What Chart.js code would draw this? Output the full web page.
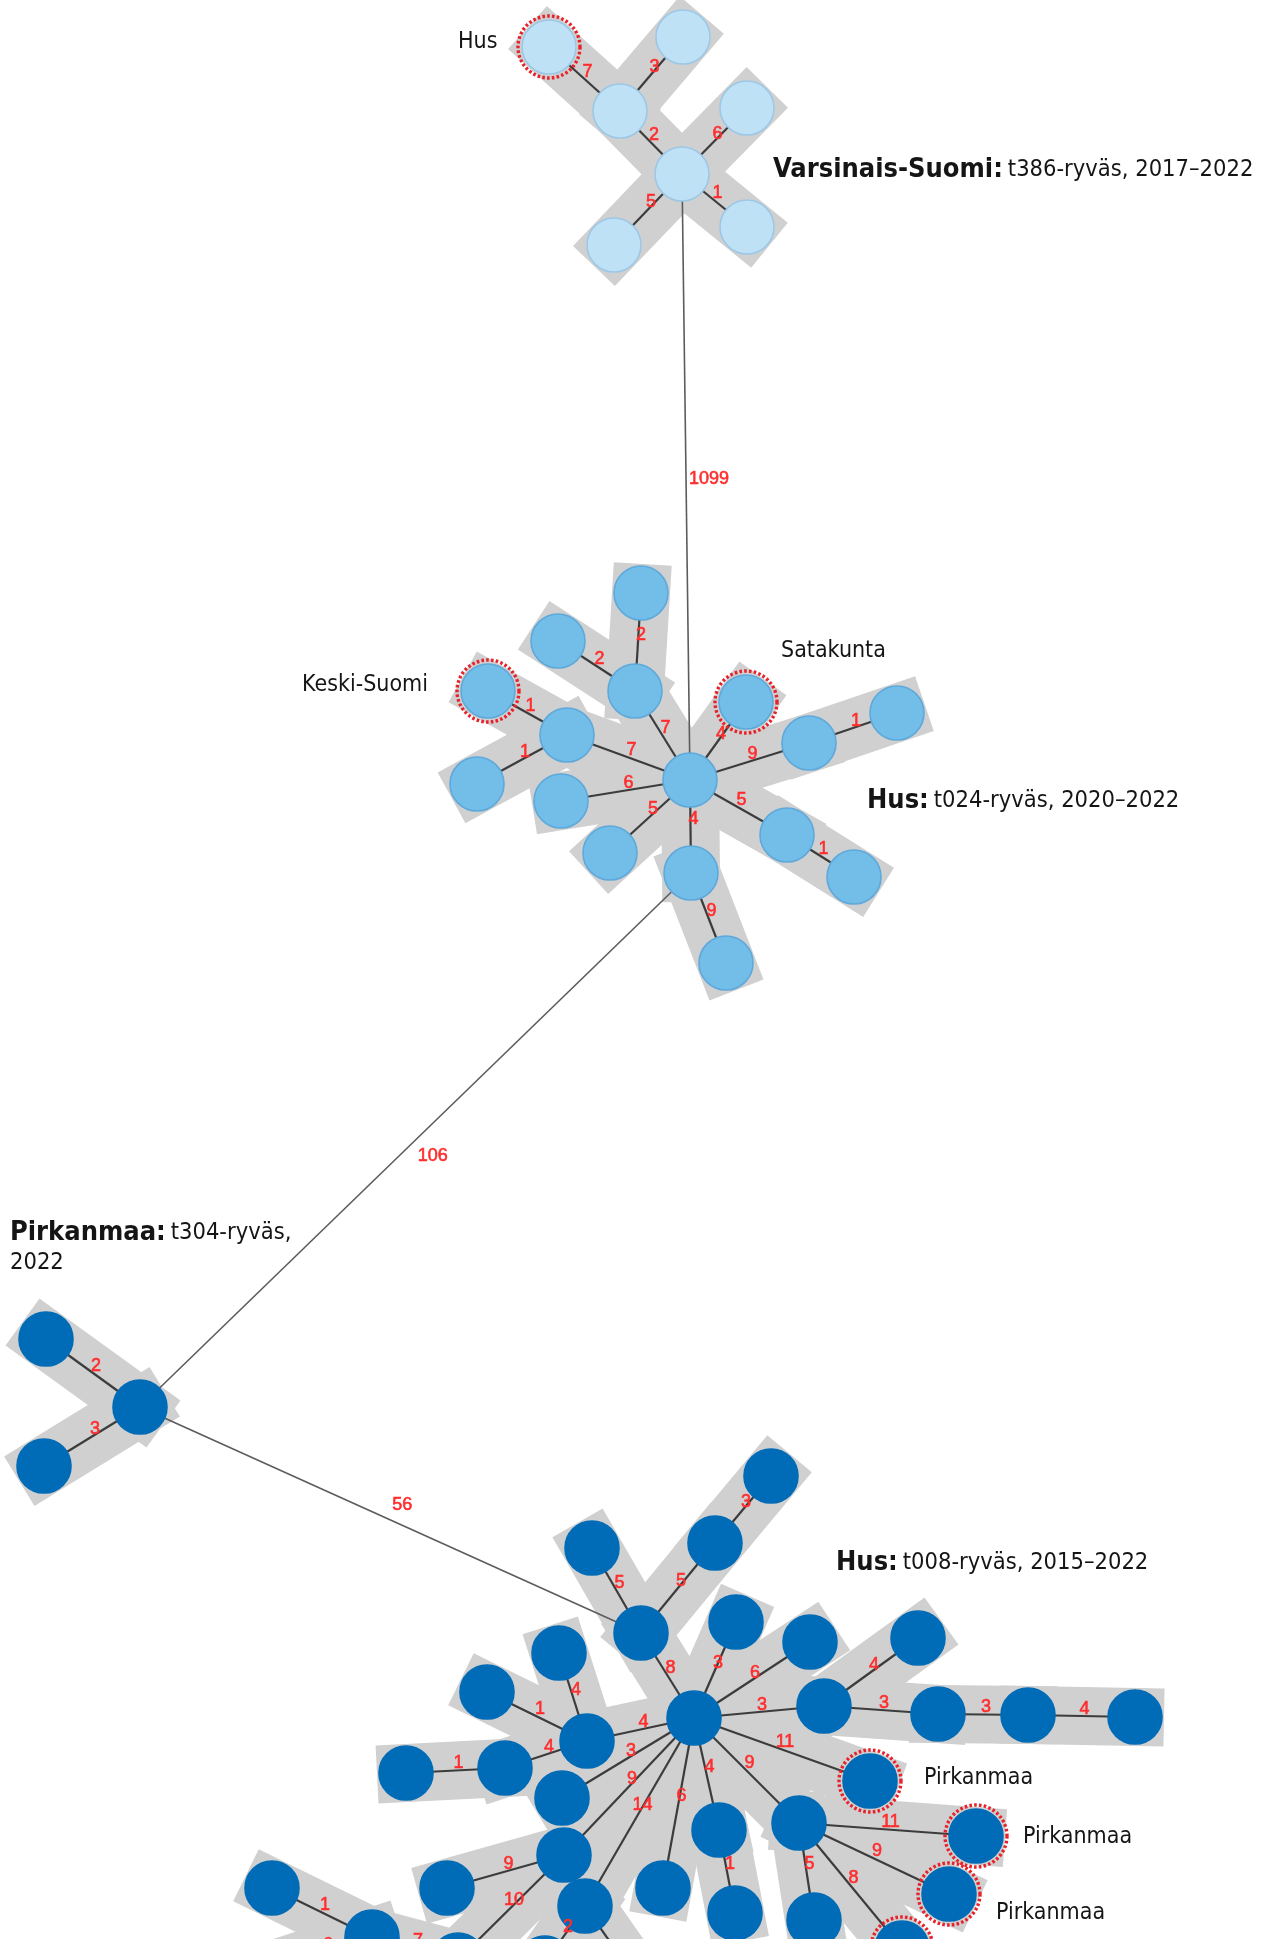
<!DOCTYPE html>
<html lang="fi">
<head>
<meta charset="utf-8">
<title>Rypäsverkosto</title>
<script src="https://cdn.jsdelivr.net/npm/chart.js@4.4.1/dist/chart.umd.min.js"></script>
<style>
  html, body { margin: 0; padding: 0; background: #ffffff; }
  #wrap { width: 1268px; height: 1939px; overflow: hidden; }
  canvas { display: block; }
</style>
</head>
<body>
<div id="wrap"><canvas id="net" width="1268" height="1939"></canvas></div>
<script>
// ---- Layout coordinates of the minimum spanning tree (x right, y down) ----

// t386 cluster, Varsinais-Suomi
const t386Nodes = [[549,47],[683,37],[620,111],[747,108],[682,174],[614,245],[747,227]];
const t386Edges = [[0,2,7],[2,1,3],[2,4,2],[4,3,6],[5,4,5],[4,6,1]];
const t386Marked = [0];

// t024 cluster, Hus
const t024Nodes = [[641,593],[558,641],[635,691],[488,691],[567,735],[477,784],[561,801],[610,853],
                   [690,780],[691,873],[726,963],[746,702],[809,743],[897,713],[787,835],[854,877]];
const t024Edges = [[2,0,2],[1,2,2],[2,8,7],[3,4,1],[5,4,1],[4,8,7],[6,8,6],[7,8,5],[8,9,4],
                   [9,10,9],[8,11,4],[8,12,9],[12,13,1],[8,14,5],[14,15,1]];
const t024Marked = [3, 11];

// t304 cluster, Pirkanmaa
const t304Nodes = [[140,1407],[46,1339],[44,1466]];
const t304Edges = [[1,0,2],[2,0,3]];
const t304Marked = [];

// t008 cluster, Hus
const t008Nodes = [[641,1633],[592,1548],[715,1543],[771,1476],[694,1718],[736,1622],[810,1642],
                   [824,1706],[918,1638],[938,1714],[1028,1715],[1135,1717],[870,1781],[799,1823],
                   [976,1836],[949,1894],[814,1920],[902,1948],[587,1741],[559,1653],[487,1692],
                   [505,1768],[406,1773],[562,1798],[564,1855],[447,1888],[585,1906],[663,1888],
                   [719,1830],[735,1913],[272,1888],[372,1937],[458,1960],[545,1963],[668,2025],[278,1968]];
const t008Edges = [[0,1,5],[0,2,5],[2,3,3],[0,4,8],[4,5,3],[4,6,6],[4,7,3],[7,8,4],[7,9,3],[9,10,3],
                   [10,11,4],[4,12,11],[4,13,9],[13,14,11],[13,15,9],[13,16,5],[13,17,8],[4,18,4],
                   [18,19,4],[18,20,1],[18,21,4],[21,22,1],[4,23,3],[4,24,9],[24,25,9],[4,26,14],
                   [4,27,6],[4,28,4],[28,29,1],[30,31,1],[31,32,7],[24,32,10],[26,33,2],[26,34,5],[31,35,6]];
const t008Marked = [12, 14, 15, 17];

// links between the clusters: [cluster, node, cluster, node, distance]
const bridges = [['t386',4,'t024',8,1099],['t024',9,'t304',0,106],['t304',0,'t008',0,56]];

// node tags (region of the marked isolate)
const tagText = ['Hus','Keski-Suomi','Satakunta','Pirkanmaa','Pirkanmaa','Pirkanmaa'];
const tagAnchor = [[458,42],[302,685],[781,651],[924,1778],[1023,1837],[996,1913]];

// cluster titles
const titleBold = ['Varsinais-Suomi:','Hus:','Pirkanmaa:','Hus:'];
const titleRest = ['t386-ryväs, 2017–2022','t024-ryväs, 2020–2022','t304-ryväs,','t008-ryväs, 2015–2022'];
const titleLine2 = ['','','2022',''];
const titleAnchor = [[773,169],[867,800],[10,1232],[836,1562]];

// ---- styling ----
const clusters = {
  t386: { nodes: t386Nodes, edges: t386Edges, marked: t386Marked, fill: '#bfe1f6', stroke: '#9cc8e6' },
  t024: { nodes: t024Nodes, edges: t024Edges, marked: t024Marked, fill: '#73bde9', stroke: '#5ea9da' },
  t304: { nodes: t304Nodes, edges: t304Edges, marked: t304Marked, fill: '#006bb6', stroke: '#006bb6' },
  t008: { nodes: t008Nodes, edges: t008Edges, marked: t008Marked, fill: '#006bb6', stroke: '#006bb6' }
};
const NODE_R = 27;
const HALO_W = 58;
const HALO_COLOR = '#d0d0d0';
const EDGE_COLOR = '#3c3c3c';
const BRIDGE_COLOR = '#5c5c5c';
const LABEL_COLOR = '#ff2e2e';
const TEXT_FONT = '"DejaVu Sans Condensed", "DejaVu Sans", sans-serif';

function pt(c, i) { const p = clusters[c].nodes[i]; return { x: p[0], y: p[1] }; }

// dotted red ring used as point style for the marked isolates
function makeRing() {
  const r = 31, pad = 4, size = 2 * (r + pad);
  const cv = document.createElement('canvas');
  cv.width = size; cv.height = size;
  const g = cv.getContext('2d');
  g.strokeStyle = '#e8222a';
  g.lineWidth = 3.4;
  g.setLineDash([2.6, 2.2]);
  g.beginPath();
  g.arc(size / 2, size / 2, r, 0, Math.PI * 2);
  g.stroke();
  return cv;
}
const ring = makeRing();

const datasets = [];
const edgeLabels = [];   // {a, b, text, long}

Object.keys(clusters).forEach(function (c) {
  const cl = clusters[c];
  cl.edges.forEach(function (e) {
    const a = pt(c, e[0]), b = pt(c, e[1]);
    datasets.push({ data: [a, b], showLine: true, borderColor: HALO_COLOR, borderWidth: HALO_W,
      borderCapStyle: 'square', pointRadius: 0, order: 6 });
    datasets.push({ data: [a, b], showLine: true, borderColor: EDGE_COLOR, borderWidth: 2.2,
      pointRadius: 0, order: 5 });
    edgeLabels.push({ a: a, b: b, text: String(e[2]), long: false });
  });
});

bridges.forEach(function (br) {
  const a = pt(br[0], br[1]), b = pt(br[2], br[3]);
  datasets.push({ data: [a, b], showLine: true, borderColor: BRIDGE_COLOR, borderWidth: 1.6,
    pointRadius: 0, order: 5 });
  edgeLabels.push({ a: a, b: b, text: String(br[4]), long: true });
});

Object.keys(clusters).forEach(function (c) {
  const cl = clusters[c];
  datasets.push({ data: cl.nodes.map(function (p, i) { return pt(c, i); }),
    pointRadius: NODE_R, pointBackgroundColor: cl.fill, pointBorderColor: cl.stroke,
    pointBorderWidth: 1.6, order: 2 });
  if (cl.marked.length) {
    datasets.push({ data: cl.marked.map(function (i) { return pt(c, i); }),
      pointStyle: ring, pointRadius: NODE_R, order: 1 });
  }
});

// edge distances, tags and titles drawn through the chart scales
const textPlugin = {
  id: 'networkText',
  afterDatasetsDraw(chart) {
    const ctx = chart.ctx, xs = chart.scales.x, ys = chart.scales.y;
    const X = function (v) { return xs.getPixelForValue(v); };
    const Y = function (v) { return ys.getPixelForValue(v); };
    ctx.save();
    ctx.fillStyle = LABEL_COLOR;
    ctx.strokeStyle = LABEL_COLOR;
    ctx.lineWidth = 0.6;
    ctx.font = '18px "Liberation Sans", Arial, sans-serif';
    ctx.textAlign = 'center';
    ctx.textBaseline = 'middle';
    edgeLabels.forEach(function (l) {
      const ax = X(l.a.x), ay = Y(l.a.y), bx = X(l.b.x), by = Y(l.b.y);
      const mx = (ax + bx) / 2, my = (ay + by) / 2;
      let lx, ly;
      if (l.long) {
        const len = Math.hypot(bx - ax, by - ay);
        const dx = (bx - ax) / len, dy = (by - ay) / len;
        lx = mx + dy * 19 + 4; ly = my - dx * 19 + 2;
      } else {
        lx = mx + 3; ly = my - 7;
      }
      ctx.fillText(l.text, lx, ly);
      ctx.strokeText(l.text, lx, ly);
    });

    ctx.fillStyle = '#151515';
    ctx.textAlign = 'left';
    ctx.font = '23px ' + TEXT_FONT;
    tagText.forEach(function (t, i) {
      ctx.fillText(t, X(tagAnchor[i][0]), Y(tagAnchor[i][1]));
    });

    titleBold.forEach(function (t, i) {
      const x = X(titleAnchor[i][0]), y = Y(titleAnchor[i][1]);
      ctx.font = 'bold 27px ' + TEXT_FONT;
      ctx.fillText(t, x, y + 1);
      const w = ctx.measureText(t).width;
      ctx.font = '23.5px ' + TEXT_FONT;
      ctx.fillText(titleRest[i], x + w + 5, y + 1);
      if (titleLine2[i]) ctx.fillText(titleLine2[i], x, y + 31);
    });
    ctx.restore();
  }
};

new Chart(document.getElementById('net'), {
  type: 'scatter',
  data: { datasets: datasets },
  options: {
    responsive: false,
    devicePixelRatio: 1,
    animation: false,
    events: [],
    layout: { padding: 0, autoPadding: false },
    plugins: { legend: { display: false }, tooltip: { enabled: false } },
    scales: {
      x: { type: 'linear', min: 0, max: 1268, display: false },
      y: { type: 'linear', min: 0, max: 1939, reverse: true, display: false }
    },
    elements: { line: { tension: 0 } }
  },
  plugins: [textPlugin]
});
</script>
</body>
</html>
